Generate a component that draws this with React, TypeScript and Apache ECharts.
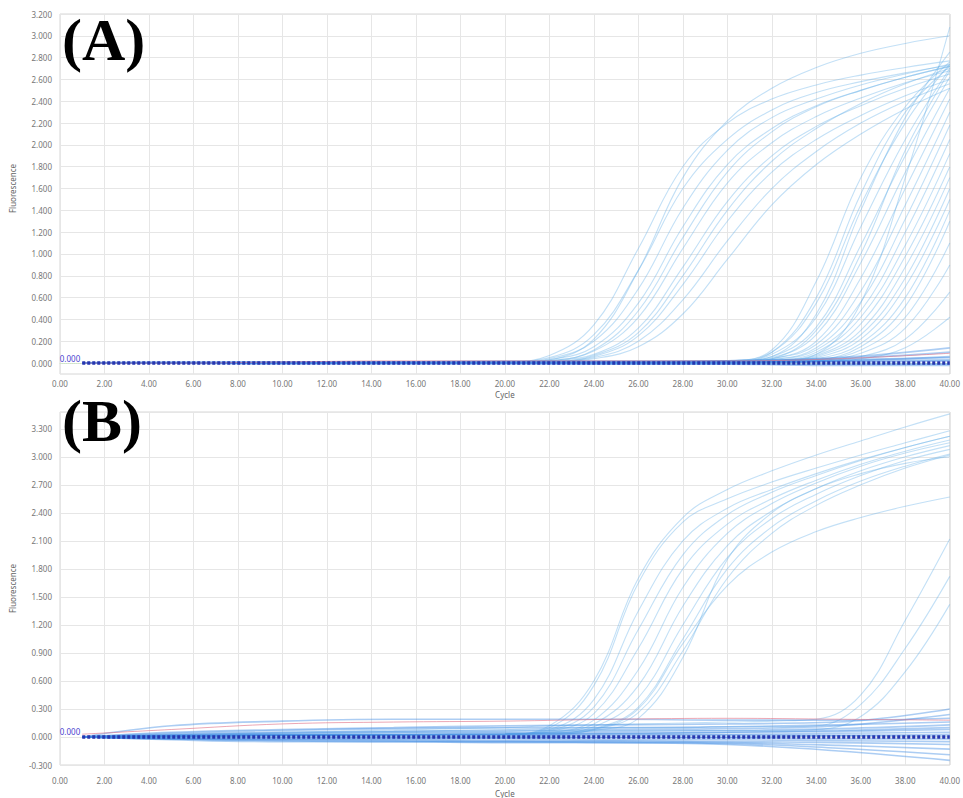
import React, { useEffect, useRef } from "react";
import * as echarts from "echarts";

// ---------- DATA ----------
// cycles at which the amplification curves were read
const CYCLES = [1, 10, 20, 22, 24, 26, 28, 30, 32, 34, 36, 38, 40];
// cycles at which the flat (baseline) curves were read
const BASE_CYCLES = [1, 5, 10, 15, 20, 25, 30, 35, 40];

// Panel A – early amplifying wells
const A_EARLY = [
  [0, 0, 0.01, 0.07, 0.35, 1.05, 1.8, 2.2, 2.42, 2.55, 2.64, 2.71, 2.77],
  [0, 0, 0.01, 0.05, 0.26, 0.85, 1.6, 2.05, 2.32, 2.48, 2.58, 2.66, 2.73],
  [0, 0, 0, 0.04, 0.2, 0.68, 1.42, 1.95, 2.25, 2.42, 2.55, 2.65, 2.74],
  [0, 0, 0, 0.03, 0.15, 0.55, 1.25, 1.82, 2.15, 2.36, 2.5, 2.62, 2.72],
  [0, 0, 0, 0.02, 0.11, 0.42, 1.05, 1.65, 2.02, 2.26, 2.43, 2.57, 2.68],
  [0, 0, 0, 0.02, 0.08, 0.32, 0.88, 1.48, 1.9, 2.17, 2.36, 2.52, 2.65],
  [0, 0, 0, 0.01, 0.06, 0.25, 0.72, 1.3, 1.75, 2.05, 2.27, 2.45, 2.6],
  [0, 0, 0, 0.01, 0.05, 0.2, 0.58, 1.12, 1.6, 1.94, 2.2, 2.4, 2.56],
  [0, 0, 0, 0.01, 0.04, 0.15, 0.45, 0.95, 1.45, 1.82, 2.1, 2.33, 2.52],
  [0, 0, 0, 0.03, 0.22, 0.85, 1.7, 2.22, 2.52, 2.71, 2.84, 2.93, 3.0],
  [0, 0, 0, 0.02, 0.12, 0.48, 1.15, 1.75, 2.12, 2.35, 2.5, 2.62, 2.72],
  [0, 0, 0, 0.01, 0.07, 0.28, 0.8, 1.4, 1.85, 2.15, 2.38, 2.56, 2.7],
];

// Panel A – late amplifying wells
const A_LATE = [
  [0, 0, 0, 0, 0, 0, 0.01, 0.02, 0.12, 0.75, 1.7, 2.35, 2.76],
  [0, 0, 0, 0, 0, 0, 0.01, 0.02, 0.1, 0.55, 1.45, 2.2, 2.74],
  [0, 0, 0, 0, 0, 0, 0, 0.01, 0.08, 0.42, 1.25, 2.05, 2.7],
  [0, 0, 0, 0, 0, 0, 0, 0.01, 0.06, 0.33, 1.08, 1.9, 2.62],
  [0, 0, 0, 0, 0, 0, 0, 0.01, 0.05, 0.26, 0.92, 1.75, 2.52],
  [0, 0, 0, 0, 0, 0, 0, 0.01, 0.04, 0.2, 0.78, 1.6, 2.42],
  [0, 0, 0, 0, 0, 0, 0, 0, 0.04, 0.17, 0.66, 1.45, 2.3],
  [0, 0, 0, 0, 0, 0, 0, 0, 0.03, 0.14, 0.56, 1.32, 2.18],
  [0, 0, 0, 0, 0, 0, 0, 0, 0.03, 0.12, 0.48, 1.2, 2.05],
  [0, 0, 0, 0, 0, 0, 0, 0, 0.02, 0.1, 0.42, 1.08, 1.92],
  [0, 0, 0, 0, 0, 0, 0, 0, 0.02, 0.08, 0.36, 0.98, 1.8],
  [0, 0, 0, 0, 0, 0, 0, 0, 0.02, 0.07, 0.3, 0.88, 1.7],
  [0, 0, 0, 0, 0, 0, 0, 0, 0.01, 0.06, 0.26, 0.78, 1.6],
  [0, 0, 0, 0, 0, 0, 0, 0, 0.01, 0.05, 0.22, 0.7, 1.5],
  [0, 0, 0, 0, 0, 0, 0, 0, 0.01, 0.04, 0.18, 0.6, 1.4],
  [0, 0, 0, 0, 0, 0, 0, 0, 0.01, 0.03, 0.15, 0.52, 1.3],
  [0, 0, 0, 0, 0, 0, 0, 0, 0.01, 0.03, 0.12, 0.42, 1.1],
  [0, 0, 0, 0, 0, 0, 0, 0, 0, 0.02, 0.09, 0.32, 0.9],
  [0, 0, 0, 0, 0, 0, 0, 0, 0, 0.02, 0.06, 0.22, 0.65],
  [0, 0, 0, 0, 0, 0, 0, 0, 0, 0.01, 0.04, 0.14, 0.42],
  [0, 0, 0, 0, 0, 0, 0, 0, 0.01, 0.08, 0.55, 1.7, 3.08],
  [0, 0, 0, 0, 0, 0, 0, 0.01, 0.06, 0.45, 1.4, 2.25, 2.85],
  [0, 0, 0, 0, 0, 0, 0, 0.01, 0.1, 0.6, 1.55, 2.3, 2.72],
  [0, 0, 0, 0, 0, 0, 0, 0, 0.04, 0.3, 1.0, 1.95, 2.68],
];

// Panel A – non-amplifying wells (read at BASE_CYCLES)
const A_BASELINE = [
  [0, 0, 0, 0, 0, 0, 0.01, 0.01, 0.02],
  [0, 0, 0.01, 0.01, 0.01, 0.01, 0.01, 0.02, 0.03],
  [0, 0, 0, 0, 0, -0.01, -0.01, -0.01, -0.01],
  [0, 0.01, 0.01, 0.01, 0.02, 0.02, 0.02, 0.03, 0.05],
  [0, 0, 0, 0.01, 0.01, 0.01, 0.02, 0.04, 0.1],
  [0, 0, -0.01, -0.01, -0.01, -0.01, -0.01, -0.02, -0.02],
  [0, 0, 0, 0, 0.01, 0.01, 0.02, 0.05, 0.14],
  [0, 0, 0, 0, 0, 0.01, 0.01, 0.02, 0.06],
];
const A_PINK = [0, 0, 0.01, 0.02, 0.02, 0.02, 0.02, 0.04, 0.09];

// Panel B – amplifying wells
const B_AMPLIFIED = [
  [0, 0.02, 0.03, 0.1, 0.55, 1.65, 2.3, 2.55, 2.73, 2.88, 3.02, 3.15, 3.28],
  [0, 0.02, 0.03, 0.12, 0.6, 1.7, 2.35, 2.65, 2.85, 3.02, 3.17, 3.32, 3.46],
  [0, 0.02, 0.03, 0.08, 0.4, 1.35, 2.1, 2.45, 2.65, 2.82, 2.97, 3.1, 3.22],
  [0, 0.02, 0.03, 0.07, 0.32, 1.15, 1.95, 2.38, 2.62, 2.8, 2.96, 3.1, 3.22],
  [0, 0.02, 0.03, 0.06, 0.25, 0.95, 1.8, 2.28, 2.55, 2.75, 2.92, 3.06, 3.18],
  [0, 0.02, 0.03, 0.05, 0.18, 0.72, 1.6, 2.18, 2.5, 2.72, 2.9, 3.04, 3.15],
  [0, 0.02, 0.03, 0.05, 0.14, 0.55, 1.4, 2.05, 2.42, 2.66, 2.85, 3.0, 3.12],
  [0, 0.02, 0.03, 0.04, 0.11, 0.42, 1.2, 1.92, 2.34, 2.6, 2.8, 2.96, 3.08],
  [0, 0.02, 0.03, 0.04, 0.09, 0.32, 1.05, 1.8, 2.25, 2.53, 2.74, 2.9, 3.03],
  [0, 0.02, 0.03, 0.03, 0.08, 0.26, 0.92, 1.7, 2.18, 2.48, 2.7, 2.88, 3.02],
  [0, 0.02, 0.03, 0.03, 0.08, 0.3, 1.0, 1.62, 1.98, 2.2, 2.35, 2.47, 2.57],
  [0, 0.02, 0.03, 0.04, 0.07, 0.2, 0.85, 1.9, 2.4, 2.66, 2.82, 2.93, 3.0],
];
const B_LATE = [
  [0, 0.05, 0.1, 0.12, 0.13, 0.14, 0.15, 0.16, 0.17, 0.19, 0.45, 1.25, 2.12],
  [0, 0.04, 0.08, 0.09, 0.1, 0.1, 0.1, 0.11, 0.11, 0.12, 0.35, 0.95, 1.72],
  [0, 0.03, 0.06, 0.07, 0.07, 0.07, 0.07, 0.07, 0.07, 0.08, 0.22, 0.7, 1.42],
];
const B_BASELINE = [
  [0, 0.12, 0.17, 0.19, 0.19, 0.19, 0.18, 0.18, 0.2],
  [0, 0.04, 0.07, 0.09, 0.1, 0.1, 0.11, 0.13, 0.16],
  [0, 0.03, 0.05, 0.06, 0.07, 0.08, 0.09, 0.12, 0.24],
  [0, 0.02, 0.04, 0.05, 0.05, 0.06, 0.07, 0.09, 0.13],
  [0, 0.02, 0.03, 0.03, 0.04, 0.04, 0.05, 0.06, 0.08],
  [0, 0.01, 0.02, 0.02, 0.02, 0.03, 0.03, 0.04, 0.05],
  [0, 0.01, 0.01, 0.01, 0.01, 0.02, 0.02, 0.02, 0.03],
  [0, 0, 0, 0, 0, 0, 0, 0.01, 0.01],
  [0, -0.01, -0.01, -0.01, -0.01, -0.01, -0.01, -0.02, -0.02],
  [0, -0.01, -0.02, -0.02, -0.02, -0.03, -0.03, -0.04, -0.05],
  [0, -0.02, -0.03, -0.03, -0.04, -0.04, -0.05, -0.06, -0.08],
  [0, -0.02, -0.03, -0.04, -0.05, -0.05, -0.06, -0.09, -0.13],
  [0, -0.02, -0.04, -0.05, -0.05, -0.06, -0.07, -0.12, -0.19],
  [0, -0.03, -0.05, -0.05, -0.06, -0.06, -0.08, -0.15, -0.25],
  [0, 0.05, 0.08, 0.1, 0.12, 0.13, 0.14, 0.16, 0.3],
  [0, 0.01, 0.02, 0.03, 0.03, 0.04, 0.05, 0.07, 0.1],
];
const B_PINK = [0.03, 0.08, 0.14, 0.16, 0.17, 0.19, 0.2, 0.19, 0.18];

// threshold line (cycle range and value)
const THRESHOLD_CYCLES = [1, 40];
const THRESHOLD_VALUE = 0;

// ---------- STYLE ----------
const FONT = "Noto Sans";
const LABEL_COLOR = "#777";
const GRID_COLOR = "#e6e6e6";
const CURVE_COLOR = "rgba(105,178,232,0.4)";
const BASE_COLOR = "rgba(70,145,228,0.45)";
const PINK_COLOR = "rgba(225,120,140,0.65)";
const THRESH_COLOR = "#2636b0";

const pairs = (xs: number[], ys: number[]) => xs.map((x, i) => [x, ys[i]]);

function curveSeries(xs: number[], rows: number[][], xi: number, yi: number, color: string, width: number) {
  return rows.map((r) => ({
    type: "line",
    xAxisIndex: xi,
    yAxisIndex: yi,
    data: pairs(xs, r),
    smooth: 0.4,
    showSymbol: false,
    symbol: "none",
    silent: true,
    lineStyle: { color, width },
  }));
}

function thresholdSeries(xi: number, yi: number) {
  return {
    type: "line",
    xAxisIndex: xi,
    yAxisIndex: yi,
    data: [],
    z: 10,
    markLine: {
      silent: true,
      symbol: ["none", "none"],
      lineStyle: { color: THRESH_COLOR, width: 3.5, type: [3, 2] },
      label: {
        show: true,
        position: "start",
        formatter: THRESHOLD_VALUE.toFixed(3),
        color: "#4b3fd0",
        fontSize: 8,
        fontFamily: FONT,
        distance: 2,
        offset: [0, -5],
      },
      data: [
        [
          { coord: [THRESHOLD_CYCLES[0], THRESHOLD_VALUE] },
          { coord: [THRESHOLD_CYCLES[1], THRESHOLD_VALUE] },
        ],
      ],
    },
  };
}

const axisText = { fontSize: 8, color: LABEL_COLOR, fontFamily: FONT };

function xAxisDef(gridIndex: number, nameGap: number, margin: number, bottomLine: any) {
  return {
    gridIndex,
    type: "value",
    min: 0,
    max: 40,
    interval: 2,
    axisLine: bottomLine,
    axisTick: { show: false },
    axisLabel: { ...axisText, margin, formatter: (v: number) => v.toFixed(2) },
    splitLine: { show: true, lineStyle: { color: GRID_COLOR, width: 1 } },
    name: "Cycle",
    nameLocation: "middle",
    nameGap,
    nameTextStyle: { ...axisText, color: "#666" },
  };
}

function yAxisDef(gridIndex: number, min: number, max: number, interval: number) {
  return {
    gridIndex,
    type: "value",
    min,
    max,
    interval,
    axisLine: { show: false },
    axisTick: { show: false },
    axisLabel: { ...axisText, margin: 8, showMaxLabel: false, formatter: (v: number) => v.toFixed(3) },
    splitLine: { show: true, lineStyle: { color: GRID_COLOR, width: 1 } },
    name: "Fluorescence",
    nameLocation: "middle",
    nameGap: 44,
    nameRotate: 90,
    nameTextStyle: { ...axisText, color: "#666" },
  };
}

export default function App() {
  const ref = useRef<HTMLDivElement>(null);
  useEffect(() => {
    document.body.style.margin = "0";
    if (!ref.current) return;
    const chart = echarts.init(ref.current, null, { renderer: "svg" });
    const option: any = {
      animation: false,
      backgroundColor: "#fff",
      grid: [
        { left: 60, top: 14, width: 891, height: 349, show: false },
        { left: 60, top: 14, width: 891, height: 360, show: true, borderColor: "#d6d6d6", borderWidth: 1, backgroundColor: "transparent" },
        { left: 60, top: 412, width: 891, height: 355, show: true, borderColor: "#d6d6d6", borderWidth: 1, backgroundColor: "transparent" },
      ],
      xAxis: [
        { gridIndex: 0, type: "value", min: 0, max: 40, show: false },
        xAxisDef(1, 16, 5, { show: true, lineStyle: { color: "#cfe6c8", type: "dotted" } }),
        xAxisDef(2, 24, 11, { show: false }),
      ],
      yAxis: [
        { ...yAxisDef(0, 0, 3.2, 0.2), axisLabel: { ...axisText, margin: 8, formatter: (v: number) => v.toFixed(3) } },
        { gridIndex: 1, type: "value", min: -0.1, max: 3.2, show: false, splitLine: { show: false } },
        yAxisDef(2, -0.3, 3.48, 0.3),
      ],
      graphic: [
        { type: "text", left: 62, top: 10, style: { text: "(A)", font: 'bold 60px "Liberation Serif"', lineHeight: 46, fill: "#000" }, z: 20 },
        { type: "text", left: 62, top: 391, style: { text: "(B)", font: 'bold 60px "Liberation Serif"', lineHeight: 46, fill: "#000" }, z: 20 },
      ],
      series: [
        ...curveSeries(CYCLES, A_EARLY, 1, 1, CURVE_COLOR, 1.1),
        ...curveSeries(CYCLES, A_LATE, 1, 1, CURVE_COLOR, 1.1),
        ...curveSeries(BASE_CYCLES, A_BASELINE, 1, 1, BASE_COLOR, 1.8),
        ...curveSeries(BASE_CYCLES, [A_PINK], 1, 1, PINK_COLOR, 1),
        thresholdSeries(1, 1),
        ...curveSeries(CYCLES, B_AMPLIFIED, 2, 2, CURVE_COLOR, 1.1),
        ...curveSeries(CYCLES, B_LATE, 2, 2, CURVE_COLOR, 1.1),
        ...curveSeries(BASE_CYCLES, B_BASELINE, 2, 2, BASE_COLOR, 1.6),
        ...curveSeries(BASE_CYCLES, [B_PINK], 2, 2, PINK_COLOR, 1),
        thresholdSeries(2, 2),
      ],
    };
    chart.setOption(option);
    return () => chart.dispose();
  }, []);
  return <div ref={ref} style={{ width: 963, height: 798 }} />;
}
